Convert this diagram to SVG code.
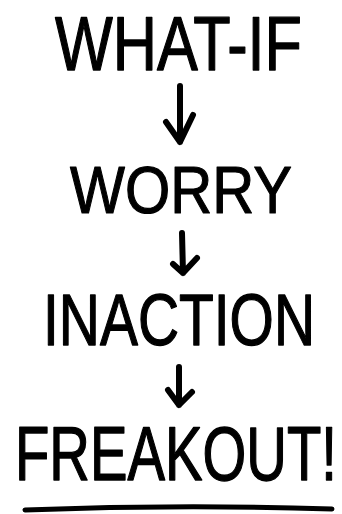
<svg xmlns="http://www.w3.org/2000/svg" width="342" height="514" viewBox="0 0 342 514">
<style>
.t{font-family:"Liberation Sans","DejaVu Sans",sans-serif;fill:#000;stroke:#000;stroke-width:1;stroke-linejoin:round}
.c{fill:none;stroke:#000;stroke-width:6;stroke-linecap:round;stroke-linejoin:round}
</style>
<rect width="342" height="514" fill="#fff"/>
<g id="node-whatif" transform="translate(55,70) scale(1,1.3)"><text class="t" x="0" y="0" font-size="59" textLength="247" lengthAdjust="spacingAndGlyphs">WHAT-IF</text></g>
<g id="node-worry" transform="translate(70,213) scale(1,1.16)"><text class="t" x="0" y="0" font-size="58" textLength="222" lengthAdjust="spacingAndGlyphs">WORRY</text></g>
<g id="node-inaction" transform="translate(43,345) scale(1,1.27)"><text class="t" x="0" y="0" font-size="57" textLength="272" lengthAdjust="spacingAndGlyphs">INACTION</text></g>
<g id="node-freakout" transform="translate(15,480) scale(1,1.36)"><text class="t" x="0" y="0" font-size="56" textLength="322" lengthAdjust="spacingAndGlyphs">FREAKOUT!</text></g>
<g id="connectors">
<path class="c" d="M180,86 L180,142 M166,122 L180,142 L193,115"/>
<path class="c" d="M182,233 L183,273 M173,264 L183,273 L197,258"/>
<path class="c" d="M179,367 L179,405 M168,390 L179,405 L192,392"/>
</g>
<path id="underline" d="M25,510 Q180,504 332,509" fill="none" stroke="#000" stroke-width="5" stroke-linecap="round"/>
</svg>
